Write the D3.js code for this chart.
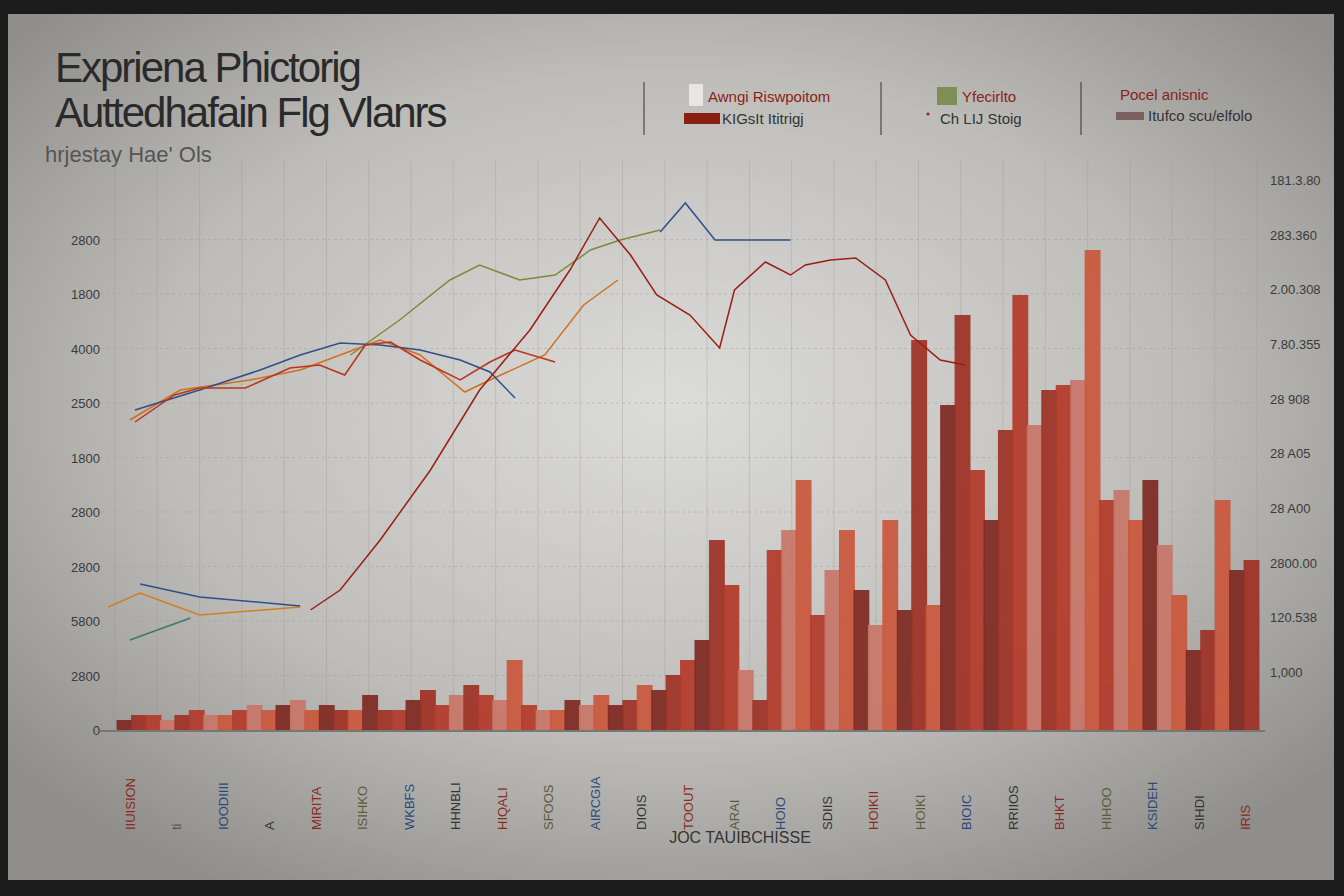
<!DOCTYPE html>
<html><head><meta charset="utf-8">
<script src="https://cdn.jsdelivr.net/npm/d3@7"></script>
<style>body{margin:0;background:#1e1e1e}</style>
</head><body>
<script>
// chart values (x: 0-100 timeline, y: 0-100 left scale)
var leftTicks = ["0","2800","5800","2800","2800","1800","2500","4000","1800","2800"];
var rightTicks = ["1,000","120.538","2800.00","28 A00","28 A05","28 908","7.80.355","2.00.308","283.360","181.3.80"];
var barValues = [2,3,3,2,3,4,3,3,4,5,4,5,6,4,5,4,4,7,4,4,6,8,5,7,9,7,6,14,5,4,4,6,5,7,5,6,9,8,11,14,18,38,29,12,6,36,40,50,23,32,40,28,21,42,24,78,25,65,83,52,42,60,87,61,68,69,70,96,46,48,42,50,37,27,16,20,46,32,34];
var barColors = ["#7e2a22","#b33a2a","#c9573c","#9e3226","#c77668"];
var lineRed = [[17.1,24],[19.7,28],[23.2,38],[27.6,52],[31.9,68],[36.3,80],[39.8,92],[42.4,102.4],[45.1,95],[47.4,87],[50.3,83],[52.9,76.4],[54.2,88],[56.9,93.6],[59.1,91],[60.4,93],[62.6,94],[64.8,94.4],[67.4,90],[69.6,79],[72.2,74],[74.4,73]];
var lineRedEarly = [[1.75,61.6],[5.2,67],[7.4,68.4],[11.4,68.4],[15.3,72.4],[17.9,73],[20.1,71],[21.9,77],[24.1,77.6],[26.7,74],[30.2,70],[32.8,73.6],[35,76],[38.5,73.6]];
var lineOrange = [[1.3,62],[5.7,68],[11.8,70],[16.2,72],[19.7,75],[23.2,78],[26.7,75],[30.6,67.6],[32.8,70],[37.6,75],[41,85],[44,90]];
var lineOlive = [[20.6,75],[24.9,82],[29.3,90],[31.9,93],[35.4,90],[38.5,91],[41.6,96],[44.2,98],[47.7,100]];
var lineBlue = [[1.75,64],[7.4,68],[12.7,72],[16.2,75],[19.7,77.4],[23.2,77],[26.7,76],[30.2,74],[32.8,71.6],[35,66.4]];
var lineBlueTop = [[47.7,99.6],[49.9,105.4],[52.5,98],[59.1,98]];
var lowOrange = [[-0.6,24.6],[2.2,27.4],[7.4,23],[16.2,24.6]];
var lowBlue = [[2.2,29.2],[7.4,26.6],[16.2,24.8]];
var lowOlive = [[1.3,18],[6.6,22.4]];

var W = 1344, H = 896;
var svg = d3.select("body").append("svg").attr("width", W).attr("height", H);
var defs = svg.append("defs");
var rg = defs.append("radialGradient").attr("id", "bg").attr("cx", "50%").attr("cy", "45%").attr("r", "65%");
rg.append("stop").attr("offset", "0%").attr("stop-color", "#dcdcda");
rg.append("stop").attr("offset", "60%").attr("stop-color", "#bdbcb9");
rg.append("stop").attr("offset", "100%").attr("stop-color", "#8f8e8b");
svg.append("rect").attr("width", W).attr("height", H).attr("fill", "#1c1c1c");
svg.append("rect").attr("x", 8).attr("y", 14).attr("width", 1326).attr("height", 866).attr("fill", "url(#bg)");

var x = d3.scaleLinear().domain([0, 100]).range([115, 1258]);
var y = d3.scaleLinear().domain([0, 100]).range([730, 230]);

// grid
var g = svg.append("g");
d3.range(0, 101, 3.7).forEach(function(v) {
  g.append("line").attr("x1", x(v)).attr("x2", x(v)).attr("y1", 160).attr("y2", 730)
    .attr("stroke", "#9a9995").attr("stroke-opacity", 0.35);
});
d3.range(0, 10).forEach(function(i) {
  g.append("line").attr("x1", 100).attr("x2", 1265).attr("y1", y(i * 10.9)).attr("y2", y(i * 10.9))
    .attr("stroke", "#9a9995").attr("stroke-opacity", 0.4).attr("stroke-dasharray", "3,3");
});

// axis labels
leftTicks.forEach(function(t, i) {
  svg.append("text").attr("x", 100).attr("y", y(i * 10.9) + 5).attr("text-anchor", "end")
    .attr("font-family", "Liberation Sans").attr("font-size", 13).attr("fill", "#3a3a3a").text(t);
});
var yr = d3.scaleLinear().domain([0, 9]).range([672, 180]);
rightTicks.forEach(function(t, i) {
  svg.append("text").attr("x", 1270).attr("y", yr(i) + 5)
    .attr("font-family", "Liberation Sans").attr("font-size", 13).attr("fill", "#3a3a3a").text(t);
});

// bars
var bx = d3.scaleBand().domain(d3.range(barValues.length)).range([118, 1258]).padding(-0.1);
svg.append("g").selectAll("rect").data(barValues).join("rect")
  .attr("x", function(d, i) { return bx(i); })
  .attr("width", bx.bandwidth())
  .attr("y", function(d) { return y(d); })
  .attr("height", function(d) { return y(0) - y(d); })
  .attr("fill", function(d, i) { return barColors[(i * 3 + (i >> 2)) % barColors.length]; })
  .attr("fill-opacity", 0.93);

svg.append("line").attr("x1", 100).attr("x2", 1265).attr("y1", 731).attr("y2", 731).attr("stroke", "#777").attr("stroke-width", 2);

// lines
var line = d3.line().x(function(d) { return x(d[0]); }).y(function(d) { return y(d[1]); });
[[lineOrange, "#d0701f"], [lineOlive, "#7d8a3a"], [lineBlue, "#2f4f8a"], [lineBlueTop, "#2f4f8a"], [lineRedEarly, "#b8341f"], [lineRed, "#9b1e14"],
 [lowOrange, "#d0801f"], [lowBlue, "#2f4f8a"], [lowOlive, "#3b7a6a"]].forEach(function(s) {
  svg.append("path").datum(s[0]).attr("d", line).attr("fill", "none").attr("stroke", s[1]).attr("stroke-width", 1.5);
});

// x labels (vertical texts)
var xLabels = ["IIUISION","ti","IOODIIII","A","MIRITA","ISIHKO","WKBFS","HHNBLI","HIQALI","SFOOS","AIRCGIA","DIOIS","TOOUT","ARAI","HOIO","SDIIS","HOIKII","HOIKI","BIOIC","RRIIOS","BHKT","HIHOO","KSIDEH","SIHDI","IRIS"];
var xl = d3.scalePoint().domain(d3.range(xLabels.length)).range([130, 1245]);
xLabels.forEach(function(t, i) {
  svg.append("text").attr("transform", "translate(" + (xl(i) + 5) + ",830) rotate(-90)")
    .attr("font-family", "Liberation Sans Narrow, Liberation Sans").attr("font-size", 13)
    .attr("fill", ["#8a2a1e", "#5a5a3a", "#2a4a7a", "#333"][i % 4]).text(t);
});
svg.append("text").attr("x", 740).attr("y", 843).attr("text-anchor", "middle")
  .attr("font-family", "Liberation Sans").attr("font-size", 16).attr("fill", "#333").text("JOC TAUIBCHISSE");

// title
svg.append("text").attr("x", 55).attr("y", 82).attr("font-family", "Liberation Sans").attr("font-size", 42)
  .attr("letter-spacing", -2).attr("fill", "#2a2a2a").text("Expriena Phictorig");
svg.append("text").attr("x", 55).attr("y", 127).attr("font-family", "Liberation Sans").attr("font-size", 42)
  .attr("letter-spacing", -2).attr("fill", "#2a2a2a").text("Auttedhafain Flg Vlanrs");
svg.append("text").attr("x", 45).attr("y", 162).attr("font-family", "Liberation Sans").attr("font-size", 22)
  .attr("fill", "#555").text("hrjestay Hae' Ols");

// legend
function sep(px) { svg.append("line").attr("x1", px).attr("x2", px).attr("y1", 82).attr("y2", 135).attr("stroke", "#333"); }
sep(644); sep(881); sep(1081);
var lf = "Liberation Sans Narrow, Liberation Sans";
svg.append("rect").attr("x", 689).attr("y", 84).attr("width", 14).attr("height", 22).attr("fill", "#e8e6e2");
svg.append("text").attr("x", 708).attr("y", 102).attr("font-family", lf).attr("font-size", 15).attr("fill", "#8a2218").text("Awngi Riswpoitom");
svg.append("rect").attr("x", 684).attr("y", 113).attr("width", 36).attr("height", 11).attr("fill", "#8a1f14");
svg.append("text").attr("x", 722).attr("y", 124).attr("font-family", lf).attr("font-size", 15).attr("fill", "#333").text("KIGsIt Ititrigj");
svg.append("rect").attr("x", 937).attr("y", 87).attr("width", 20).attr("height", 18).attr("fill", "#7d8f55");
svg.append("text").attr("x", 962).attr("y", 102).attr("font-family", lf).attr("font-size", 15).attr("fill", "#8a2218").text("Yfecirlto");
svg.append("circle").attr("cx", 928).attr("cy", 114).attr("r", 1.5).attr("fill", "#a01a10");
svg.append("text").attr("x", 940).attr("y", 124).attr("font-family", lf).attr("font-size", 15).attr("fill", "#333").text("Ch LIJ Stoig");
svg.append("text").attr("x", 1120).attr("y", 100).attr("font-family", lf).attr("font-size", 15).attr("fill", "#8a2218").text("Pocel anisnic");
svg.append("rect").attr("x", 1116).attr("y", 112).attr("width", 28).attr("height", 8).attr("fill", "#7a6060");
svg.append("text").attr("x", 1148).attr("y", 121).attr("font-family", lf).attr("font-size", 15).attr("fill", "#333").text("Itufco scu/elfolo");
</script>
</body></html>
